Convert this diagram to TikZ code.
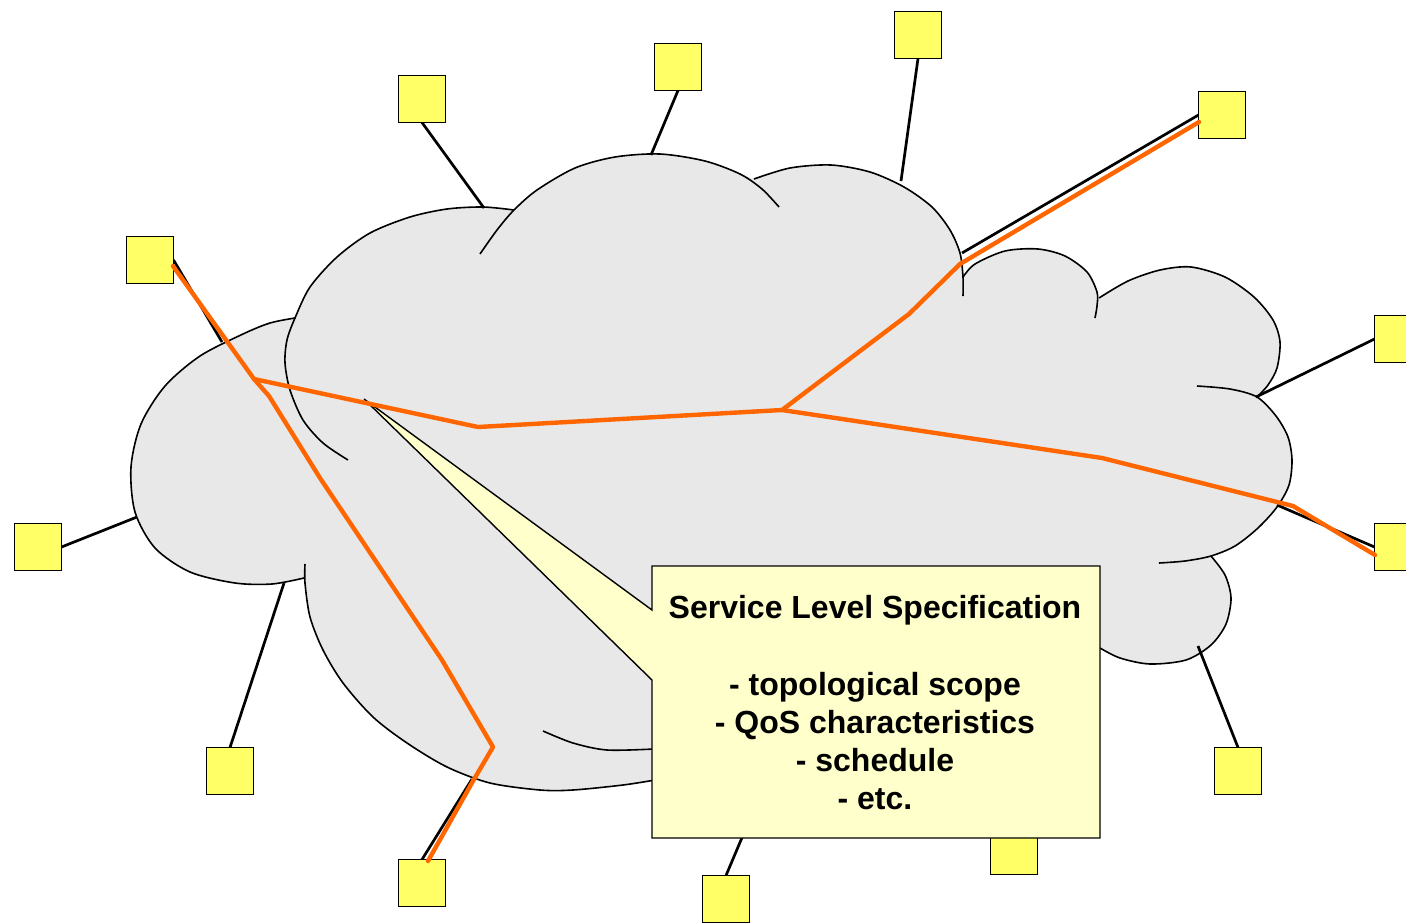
\documentclass[tikz,border=0pt]{standalone}
\usepackage{fontspec}
\setmainfont{Liberation Sans}
\definecolor{sqyellow}{HTML}{FFFF66}
\definecolor{cloudgray}{HTML}{E8E8E8}
\definecolor{callyellow}{HTML}{FFFFCC}
\definecolor{orng}{HTML}{FF6600}
\pgfdeclarelayer{background}
\pgfsetlayers{background,main}
\begin{document}
\begin{tikzpicture}[x=1pt,y=-1pt,
  sq/.style={draw=black,line width=1.4pt,fill=sqyellow,minimum width=47pt,minimum height=47pt,inner sep=0pt,outer sep=0pt},
  link/.style={line width=2.7pt,black},
  route/.style={line width=4.4pt,orng,line join=round,line cap=round},
  cloudline/.style={line width=1.6pt,black},
  lbl/.style={font=\fontsize{32}{38.3}\selectfont\bfseries,anchor=base,inner sep=0pt}]
\clip (0,0) rectangle (1406,922);
% squares
\node[sq] (s1) at (150,260) {};
\node[sq] (s2) at (422,99) {};
\node[sq] (s3) at (678,67) {};
\node[sq] (s4) at (918,35) {};
\node[sq] (s5) at (1222,115) {};
\node[sq] (s6) at (1398,339) {};
\node[sq] (s7) at (1398,547) {};
\node[sq] (s8) at (1238,771) {};
\node[sq] (s9) at (1014,851) {};
\node[sq] (s10) at (726,899) {};
\node[sq] (s11) at (422,883) {};
\node[sq] (s12) at (230,771) {};
\node[sq] (s13) at (38,547) {};
% attach points on the cloud
\coordinate (c1) at (222,342);
\coordinate (c2) at (484,208);
\coordinate (c3) at (651,155);
\coordinate (c4) at (901,181);
\coordinate (c5) at (962,253);
\coordinate (c6) at (1256,397);
\coordinate (c7) at (1277,505);
\coordinate (c8) at (1198,646);
\coordinate (c10) at (760,795);
\coordinate (c11) at (472,779);
\coordinate (c12) at (284,583);
\coordinate (c13) at (137,517);
\begin{pgfonlayer}{background}
% cloud fill
\fill[cloudgray]
 plot[smooth] coordinates {(304,578) (272,584) (235,583) (190,572) (155,548) (135,512) (131,467) (141,424) (165,386) (200,356) (243,334) (270,323) (295,318)}
 -- plot[smooth] coordinates {(295,318) (310,287) (337,257) (370,233) (410,217) (447,209) (483,207) (514,210)}
 -- plot[smooth] coordinates {(514,210) (537,190) (575,168) (615,157) (660,154) (705,161) (740,174) (754,179)}
 -- plot[smooth] coordinates {(754,179) (790,168) (831,165) (870,172) (904,187) (932,207) (950,230) (960,253) (963,277)}
 -- plot[smooth] coordinates {(963,277) (975,264) (1005,251) (1038,249) (1065,256) (1087,272) (1099,298)}
 -- plot[smooth] coordinates {(1099,298) (1128,281) (1160,270) (1191,267) (1225,277) (1254,297) (1273,320) (1280,342) (1277,368) (1268,385) (1257,397)}
 -- plot[smooth] coordinates {(1257,397) (1276,416) (1288,437) (1292,460) (1289,485) (1277,507) (1258,528) (1235,546) (1211,556)}
 -- plot[smooth] coordinates {(1211,556) (1225,575) (1231,598) (1226,624) (1211,645) (1186,660) (1150,664) (1120,658) (1100,648)}
 -- (1090,700) -- (1000,775) -- (800,790) -- (652,780)
 -- plot[smooth] coordinates {(652,780) (623,785) (573,790) (540,790) (490,783) (447,767) (407,743) (373,717) (343,683) (323,650) (310,617) (305,583) (304,578)}
 -- cycle;
% cloud lobes (outline and inner arcs)
\draw[cloudline] plot[smooth] coordinates {(304,578) (272,584) (235,583) (190,572) (155,548) (135,512) (131,467) (141,424) (165,386) (200,356) (243,334) (270,323) (295,318)};
\draw[cloudline] plot[smooth] coordinates {(348,460) (323,443) (303,420) (290,390) (285,363) (287,340) (295,318) (310,287) (337,257) (370,233) (410,217) (447,209) (483,207) (514,210)};
\draw[cloudline] plot[smooth] coordinates {(480,254) (497,230) (514,210) (537,190) (575,168) (615,157) (660,154) (705,161) (740,174) (762,189) (779,207)};
\draw[cloudline] plot[smooth] coordinates {(754,179) (790,168) (831,165) (870,172) (904,187) (932,207) (950,230) (960,253) (963,277) (963,296)};
\draw[cloudline] plot[smooth] coordinates {(963,277) (975,264) (1005,251) (1038,249) (1065,256) (1087,272) (1097,292) (1097,306) (1095,318)};
\draw[cloudline] plot[smooth] coordinates {(1099,298) (1128,281) (1160,270) (1191,267) (1225,277) (1254,297) (1273,320) (1280,342) (1277,368) (1268,385) (1257,397)};
\draw[cloudline] plot[smooth] coordinates {(1197,386) (1230,389) (1257,397) (1276,416) (1288,437) (1292,460) (1289,485) (1277,507) (1258,528) (1235,546) (1211,556) (1185,561) (1159,563)};
\draw[cloudline] plot[smooth] coordinates {(1211,556) (1225,575) (1231,598) (1226,624) (1211,645) (1186,660) (1150,664) (1120,658) (1100,648)};
\draw[cloudline] plot[smooth] coordinates {(305,564) (305,583) (310,617) (323,650) (343,683) (373,717) (407,743) (447,767) (490,783) (540,790) (573,790) (623,785) (655,780)};
\draw[cloudline] plot[smooth] coordinates {(543,731) (573,743) (607,750) (654,749)};
% links from squares to the cloud
\draw[link] (s1.east) -- (c1);
\draw[link] (s2.south) -- (c2);
\draw[link] (s3.south) -- (c3);
\draw[link] (s4.south) -- (c4);
\draw[link] (s5.west) -- (c5);
\draw[link] (s6.west) -- (c6);
\draw[link] (s7.west) -- (c7);
\draw[link] (s8.north) -- (c8);
\draw[link] (s10.north) -- (c10);
\draw[link] (s11.north) -- (c11);
\draw[link] (s12.north) -- (c12);
\draw[link] (s13.east) -- (c13);
\end{pgfonlayer}
% callout
\draw[line width=1.4pt,fill=callyellow] (652,566) -- (1100,566) -- (1100,838) -- (652,838) -- (652,680) -- (364,399) -- (652,610) -- cycle;
\node[lbl] (t1) at (875,618.3) {Service Level Specification};
\node[lbl] (t2) at (875,695) {- topological scope};
\node[lbl] (t3) at (875,733.3) {- QoS characteristics};
\node[lbl] (t4) at (875,771.6) {- schedule};
\node[lbl] (t5) at (875,809.9) {- etc.};
% routes
\coordinate (j1) at (254,379);
\coordinate (j2) at (782,410);
\coordinate (a1) at (173,266);
\coordinate (a5) at (1199,122);
\coordinate (a7) at (1375,555);
\coordinate (a11) at (428,861);
\draw[route] (a1) -- (j1) -- (478,427) -- (j2) -- (909,314) -- (960,264) -- (a5);
\draw[route] (j1) -- (269,396) -- (320,478) -- (442,660) -- (493,747) -- (473,781) -- (a11);
\draw[route] (j2) -- (1102,458) -- (1293,506) -- (a7);
\end{tikzpicture}
\end{document}
